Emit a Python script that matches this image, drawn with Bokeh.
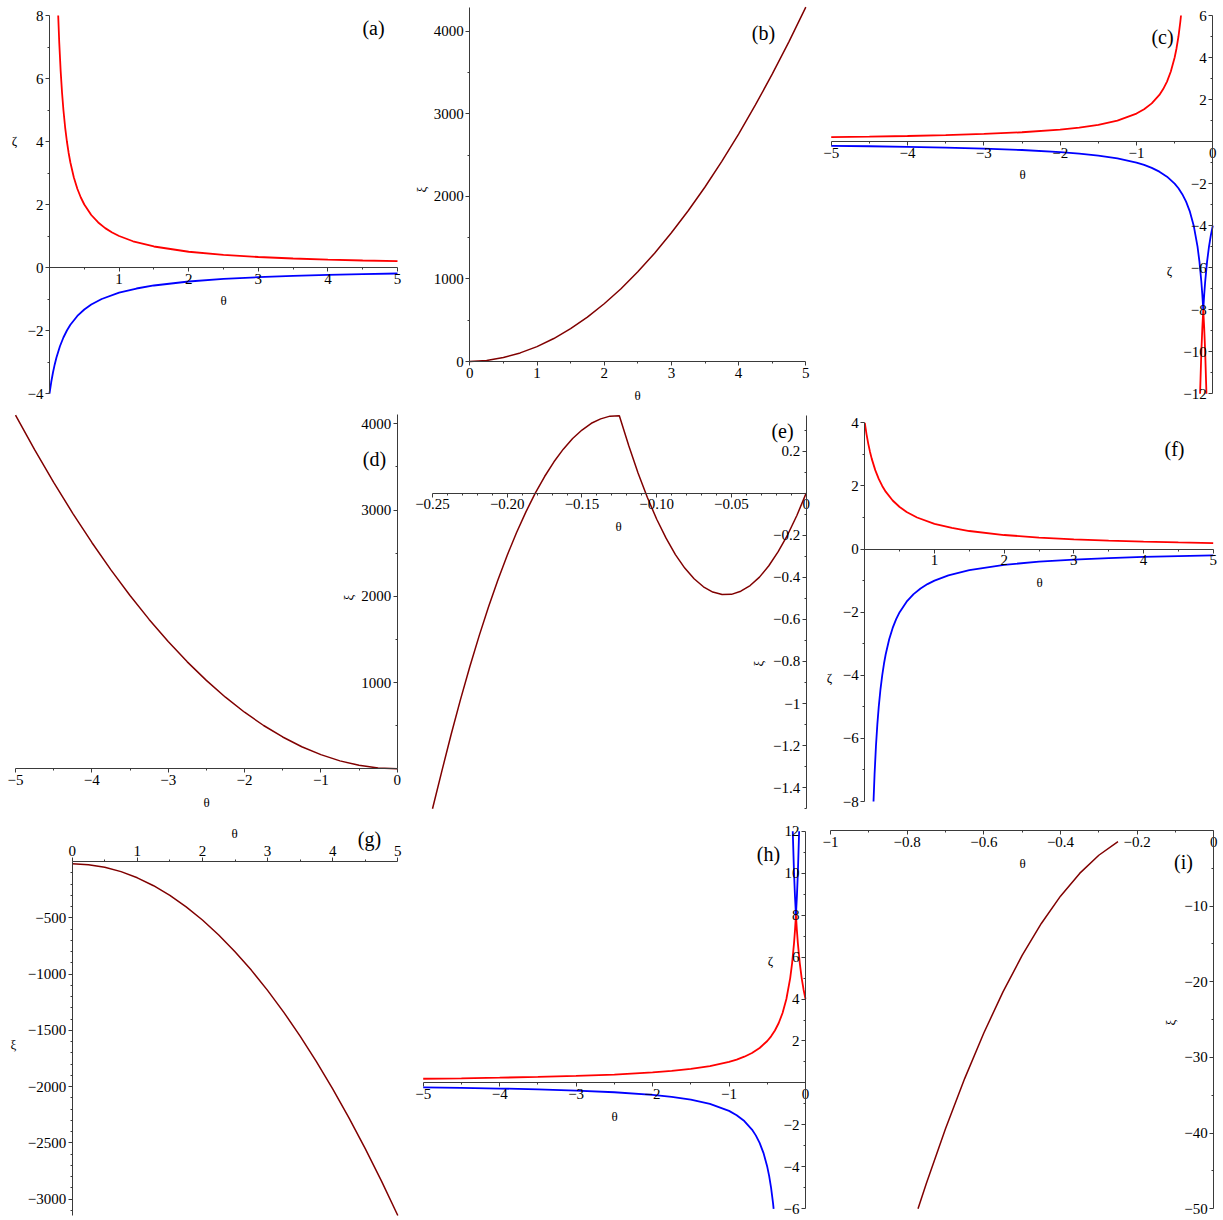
from math import pi
from bokeh.plotting import figure
from bokeh.models import LinearAxis, FixedTicker, Range1d, Label
from bokeh.embed import file_html
from bokeh.resources import INLINE

FONT = "Liberation Serif"
RED = "#ff0000"
BLUE = "#0000ff"
MAROON = "#800000"
AXIS = "#3a3a3a"
M = "\u2212"
CW, CH = 1223, 1220

# ---------------- data ----------------
# (a)
A_TH_RED = [0.125, 0.14, 0.16, 0.18, 0.2, 0.225, 0.25, 0.275, 0.3, 0.35, 0.4, 0.45, 0.5, 0.6, 0.7, 0.8, 0.9, 1.0, 1.2, 1.5, 2.0, 2.5, 3.0, 3.5, 4.0, 4.5, 5.0]
A_ZETA_RED = [8.0, 7.143, 6.25, 5.556, 5.0, 4.444, 4.0, 3.636, 3.333, 2.857, 2.5, 2.222, 2.0, 1.667, 1.429, 1.25, 1.111, 1.0, 0.833, 0.667, 0.5, 0.4, 0.333, 0.286, 0.25, 0.222, 0.2]
A_TH_BLUE = [0.0, 0.025, 0.05, 0.075, 0.1, 0.15, 0.2, 0.25, 0.3, 0.4, 0.5, 0.6, 0.75, 1.0, 1.25, 1.5, 2.0, 2.5, 3.0, 3.5, 4.0, 4.5, 5.0]
A_ZETA_BLUE = [-4.0, -3.636, -3.333, -3.077, -2.857, -2.5, -2.222, -2.0, -1.818, -1.538, -1.333, -1.176, -1.0, -0.8, -0.667, -0.571, -0.444, -0.364, -0.308, -0.267, -0.235, -0.211, -0.19]

# (b)
B_TH = [0.0, 0.25, 0.5, 0.75, 1.0, 1.25, 1.5, 1.75, 2.0, 2.25, 2.5, 2.75, 3.0, 3.25, 3.5, 3.75, 4.0, 4.25, 4.5, 4.75, 5.0]
B_XI = [0, 13, 48, 104, 180, 278, 398, 538, 699, 881, 1086, 1311, 1558, 1825, 2113, 2423, 2754, 3106, 3479, 3874, 4290]

# (c)
C_TH_RED = [-5.0, -4.5, -4.0, -3.5, -3.0, -2.5, -2.0, -1.75, -1.5, -1.25, -1.0, -0.9, -0.8, -0.7, -0.65, -0.6, -0.55, -0.5, -0.475, -0.45, -0.425, -0.4167]
C_ZETA_RED = [0.211, 0.235, 0.267, 0.308, 0.364, 0.444, 0.571, 0.667, 0.8, 1.0, 1.333, 1.538, 1.818, 2.222, 2.5, 2.857, 3.333, 4.0, 4.444, 5.0, 5.714, 6.0]
C_TH_RED_V = [-0.1667, -0.15, -0.1375, -0.125, -0.1125, -0.1, -0.0833]
C_ZETA_RED_V = [-12.0, -10.0, -8.889, -8.0, -8.889, -10.0, -12.0]
C_TH_BLUE = [-5.0, -4.5, -4.0, -3.5, -3.0, -2.5, -2.0, -1.75, -1.5, -1.25, -1.0, -0.9, -0.8, -0.7, -0.6, -0.5, -0.45, -0.4, -0.35, -0.3, -0.25, -0.2, -0.175, -0.15, -0.1375, -0.125, -0.1125, -0.1, -0.075, -0.05, -0.025, 0.0]
C_ZETA_BLUE = [-0.2, -0.222, -0.25, -0.286, -0.333, -0.4, -0.5, -0.571, -0.667, -0.8, -1.0, -1.111, -1.25, -1.429, -1.667, -2.0, -2.222, -2.5, -2.857, -3.333, -4.0, -5.0, -5.714, -6.667, -7.273, -8.0, -7.273, -6.667, -5.714, -5.0, -4.444, -4.0]

# (d)
D_TH = [-5.0, -4.75, -4.5, -4.25, -4.0, -3.75, -3.5, -3.25, -3.0, -2.75, -2.5, -2.25, -2.0, -1.75, -1.5, -1.25, -1.0, -0.75, -0.5, -0.25, 0.0]
D_XI = [4100, 3700, 3321, 2962, 2624, 2306, 2009, 1732, 1476, 1240, 1025, 830, 656, 502, 369, 256, 164, 92, 41, 10, 0]

# (e)
E_TH = [-0.25, -0.24375, -0.2375, -0.23125, -0.225, -0.21875, -0.2125, -0.20625, -0.2, -0.19375,
        -0.1875, -0.18125, -0.175, -0.16875, -0.1625, -0.15625, -0.15, -0.14375, -0.1375, -0.13125,
        -0.125, -0.11875, -0.1125, -0.10625, -0.1, -0.09375, -0.0875, -0.08125, -0.075, -0.06875,
        -0.0625, -0.05625, -0.05, -0.04375, -0.0375, -0.03125, -0.025, -0.01875, -0.0125, -0.00625, 0.0]
E_XI = [-1.5, -1.321, -1.146, -0.98, -0.824, -0.677, -0.54, -0.413, -0.295, -0.187,
        -0.089, 0.0, 0.079, 0.149, 0.209, 0.26, 0.3, 0.332, 0.353, 0.366,
        0.368, 0.226, 0.096, -0.021, -0.124, -0.214, -0.292, -0.356, -0.407, -0.445,
        -0.47, -0.482, -0.481, -0.466, -0.439, -0.399, -0.345, -0.278, -0.199, -0.106, 0.0]

# (f)
F_TH_RED = [0.0, 0.025, 0.05, 0.075, 0.1, 0.15, 0.2, 0.25, 0.3, 0.4, 0.5, 0.6, 0.75, 1.0, 1.25, 1.5, 2.0, 2.5, 3.0, 3.5, 4.0, 4.5, 5.0]
F_ZETA_RED = [4.0, 3.636, 3.333, 3.077, 2.857, 2.5, 2.222, 2.0, 1.818, 1.538, 1.333, 1.176, 1.0, 0.8, 0.667, 0.571, 0.444, 0.364, 0.308, 0.267, 0.235, 0.211, 0.19]
F_TH_BLUE = [0.125, 0.14, 0.16, 0.18, 0.2, 0.225, 0.25, 0.275, 0.3, 0.35, 0.4, 0.45, 0.5, 0.6, 0.7, 0.8, 0.9, 1.0, 1.2, 1.5, 2.0, 2.5, 3.0, 3.5, 4.0, 4.5, 5.0]
F_ZETA_BLUE = [-8.0, -7.143, -6.25, -5.556, -5.0, -4.444, -4.0, -3.636, -3.333, -2.857, -2.5, -2.222, -2.0, -1.667, -1.429, -1.25, -1.111, -1.0, -0.833, -0.667, -0.5, -0.4, -0.333, -0.286, -0.25, -0.222, -0.2]

# (g)
G_TH = [0.0, 0.25, 0.5, 0.75, 1.0, 1.25, 1.5, 1.75, 2.0, 2.25, 2.5, 2.75, 3.0, 3.25, 3.5, 3.75, 4.0, 4.25, 4.5, 4.75, 5.0]
G_XI = [-20, -28, -51, -90, -145, -215, -301, -403, -520, -653, -801, -965, -1145, -1340, -1551, -1778, -2020, -2278, -2551, -2840, -3145]

# (h)
H_TH_RED = [-5.0, -4.5, -4.0, -3.5, -3.0, -2.5, -2.0, -1.75, -1.5, -1.25, -1.0, -0.9, -0.8, -0.7, -0.6, -0.5, -0.45, -0.4, -0.35, -0.3, -0.25, -0.2, -0.175, -0.15, -0.1375, -0.125, -0.1125, -0.1, -0.075, -0.05, -0.025, 0.0]
H_ZETA_RED = [0.2, 0.222, 0.25, 0.286, 0.333, 0.4, 0.5, 0.571, 0.667, 0.8, 1.0, 1.111, 1.25, 1.429, 1.667, 2.0, 2.222, 2.5, 2.857, 3.333, 4.0, 5.0, 5.714, 6.667, 7.273, 8.0, 7.273, 6.667, 5.714, 5.0, 4.444, 4.0]
H_TH_BLUE = [-5.0, -4.5, -4.0, -3.5, -3.0, -2.5, -2.0, -1.75, -1.5, -1.25, -1.0, -0.9, -0.8, -0.7, -0.65, -0.6, -0.55, -0.5, -0.475, -0.45, -0.425, -0.4167]
H_ZETA_BLUE = [-0.211, -0.235, -0.267, -0.308, -0.364, -0.444, -0.571, -0.667, -0.8, -1.0, -1.333, -1.538, -1.818, -2.222, -2.5, -2.857, -3.333, -4.0, -4.444, -5.0, -5.714, -6.0]
H_TH_BLUE_V = [-0.1667, -0.15, -0.1375, -0.125, -0.1125, -0.1, -0.0833]
H_ZETA_BLUE_V = [12.0, 10.0, 8.889, 8.0, 8.889, 10.0, 12.0]

# (i)
I_TH = [-0.25, -0.3, -0.35, -0.4, -0.45, -0.5, -0.55, -0.6, -0.65, -0.7, -0.75, -0.7717]
I_XI = [-1.48, -3.27, -5.67, -8.68, -12.29, -16.51, -21.33, -26.76, -32.79, -39.42, -46.67, -50.0]

# ---------------- tick labels ----------------
A_XT = [1, 2, 3, 4, 5]; A_XL = ["1", "2", "3", "4", "5"]
A_YT = [-4, -2, 0, 2, 4, 6, 8]; A_YL = [M + "4", M + "2", "0", "2", "4", "6", "8"]
B_XT = [0, 1, 2, 3, 4, 5]; B_XL = ["0", "1", "2", "3", "4", "5"]
B_YT = [0, 1000, 2000, 3000, 4000]; B_YL = ["0", "1000", "2000", "3000", "4000"]
C_XT = [-5, -4, -3, -2, -1, 0]; C_XL = [M + "5", M + "4", M + "3", M + "2", M + "1", "0"]
C_YT = [-12, -10, -8, -6, -4, -2, 2, 4, 6]; C_YL = [M + "12", M + "10", M + "8", M + "6", M + "4", M + "2", "2", "4", "6"]
D_XT = [-5, -4, -3, -2, -1, 0]; D_XL = [M + "5", M + "4", M + "3", M + "2", M + "1", "0"]
D_YT = [1000, 2000, 3000, 4000]; D_YL = ["1000", "2000", "3000", "4000"]
E_XT = [-0.25, -0.2, -0.15, -0.1, -0.05, 0]; E_XL = [M + "0.25", M + "0.20", M + "0.15", M + "0.10", M + "0.05", "0"]
E_YT = [-1.4, -1.2, -1.0, -0.8, -0.6, -0.4, -0.2, 0.2]; E_YL = [M + "1.4", M + "1.2", M + "1", M + "0.8", M + "0.6", M + "0.4", M + "0.2", "0.2"]
F_XT = [1, 2, 3, 4, 5]; F_XL = ["1", "2", "3", "4", "5"]
F_YT = [-8, -6, -4, -2, 0, 2, 4]; F_YL = [M + "8", M + "6", M + "4", M + "2", "0", "2", "4"]
G_XT = [0, 1, 2, 3, 4, 5]; G_XL = ["0", "1", "2", "3", "4", "5"]
G_YT = [-3000, -2500, -2000, -1500, -1000, -500]; G_YL = [M + "3000", M + "2500", M + "2000", M + "1500", M + "1000", M + "500"]
H_XT = [-5, -4, -3, -2, -1, 0]; H_XL = [M + "5", M + "4", M + "3", M + "2", M + "1", "0"]
H_YT = [-6, -4, -2, 2, 4, 6, 8, 10, 12]; H_YL = [M + "6", M + "4", M + "2", "2", "4", "6", "8", "10", "12"]
I_XT = [-1, -0.8, -0.6, -0.4, -0.2, 0]; I_XL = [M + "1", M + "0.8", M + "0.6", M + "0.4", M + "0.2", "0"]
I_YT = [-50, -40, -30, -20, -10]; I_YL = [M + "50", M + "40", M + "30", M + "20", M + "10"]


def minors(a, b, step, majors):
    out = []
    n = int(round((b - a) / step))
    for k in range(n + 1):
        v = round(a + k * step, 6)
        if all(abs(v - m) > step * 1e-3 for m in majors):
            out.append(v)
    return out


# One canvas; the default ranges are page pixels (y downwards) and each
# panel gets its own pair of scales, placed by its frame box on the page.
p = figure(width=CW, height=CH, title=None,
           x_range=Range1d(0, CW), y_range=Range1d(CH, 0),
           x_axis_location=None, y_axis_location=None,
           toolbar_location=None, output_backend="svg",
           min_border_left=0, min_border_right=0, min_border_top=0, min_border_bottom=0,
           outline_line_color=None, background_fill_color="white", border_fill_color="white")
p.grid.visible = False

EX, EY = {}, {}

PANELS = {
    # key: (frame left, top, width, height) in page px, x range, y range
    "a": ((49.0, 15.0, 348.0, 378.0), (0, 5), (-4, 8)),
    "b": ((469.3, 6.7, 336.0, 354.3), (0, 5), (0, 4290)),
    "c": ((830.7, 15.0, 381.6, 378.3), (-5, 0), (-12, 6)),
    "d": ((15.0, 414.3, 381.7, 354.0), (-5, 0), (0, 4104)),
    "e": ((432.0, 415.0, 373.7, 393.3), (-0.25, 0), (-1.5, 0.369)),
    "f": ((864.3, 422.3, 348.4, 378.7), (0, 5), (-8, 4)),
    "g": ((71.7, 861.0, 325.6, 354.0), (0, 5), (-3145, 0)),
    "h": ((422.7, 830.7, 382.3, 377.6), (-5, 0), (-6, 12)),
    "i": ((830.0, 830.0, 383.3, 378.3), (-1, 0), (-50, 0)),
}

for key, (frame, xr, yr) in PANELS.items():
    L, T, W, H = frame
    sx = (xr[1] - xr[0]) / W
    sy = (yr[1] - yr[0]) / H
    EX[key] = Range1d(xr[0] - L * sx, xr[0] + (CW - L) * sx)
    EY[key] = Range1d(yr[1] - (CH - T) * sy, yr[1] + T * sy)

p.extra_x_ranges = EX
p.extra_y_ranges = EY


def axis(key, dim, ticks, labels, minor, side):
    xr, yr = PANELS[key][1], PANELS[key][2]
    ax = LinearAxis(
        x_range_name=key, y_range_name=key,
        fixed_location=0, bounds=(xr if dim == "x" else yr),
        ticker=FixedTicker(ticks=ticks, minor_ticks=minor),
        major_label_overrides={t: l for t, l in zip(ticks, labels)},
        axis_line_color=AXIS, axis_line_width=1,
        major_tick_line_color=AXIS, minor_tick_line_color=AXIS,
        major_tick_out=4, major_tick_in=0, minor_tick_out=2, minor_tick_in=0,
        major_label_text_font=FONT, major_label_text_font_size="15px",
        major_label_text_color="black", major_label_standoff=2,
    )
    p.add_layout(ax, side)


def curve(key, xs, ys, color, width):
    p.line(xs, ys, x_range_name=key, y_range_name=key, line_color=color, line_width=width)


def texts(tag, tag_xy, th_xy, var, var_xy, rot):
    p.add_layout(Label(x=tag_xy[0], y=tag_xy[1], text=tag, text_font=FONT, text_font_size="20px",
                       text_align="center", text_baseline="middle", text_color="black"))
    p.add_layout(Label(x=th_xy[0], y=th_xy[1], text="\u03b8", text_font=FONT, text_font_size="13px",
                       text_align="center", text_baseline="middle", text_color="black"))
    p.add_layout(Label(x=var_xy[0], y=var_xy[1], text=var, text_font=FONT, text_font_size="13px",
                       angle=(pi / 2 if rot else 0), text_align="center",
                       text_baseline="middle", text_color="black"))


ZW = 1.8
MW = 1.5
ZETA = "\u03b6"
XI = "\u03be"

# (a)
axis("a", "x", A_XT, A_XL, minors(0, 5, 0.5, A_XT + [0]), "below")
axis("a", "y", A_YT, A_YL, minors(-4, 8, 1, A_YT), "left")
curve("a", A_TH_RED, A_ZETA_RED, RED, ZW)
curve("a", A_TH_BLUE, A_ZETA_BLUE, BLUE, ZW)
texts("(a)", (373, 27), (223, 300), ZETA, (14, 140), False)

# (b)
axis("b", "x", B_XT, B_XL, minors(0, 5, 0.5, B_XT), "below")
axis("b", "y", B_YT, B_YL, minors(0, 4000, 500, B_YT), "left")
curve("b", B_TH, B_XI, MAROON, MW)
texts("(b)", (763, 32), (637, 395), XI, (421, 189), True)

# (c)
axis("c", "x", C_XT, C_XL, minors(-5, 0, 0.5, C_XT), "below")
axis("c", "y", C_YT, C_YL, minors(-12, 6, 1, C_YT + [0]), "left")
curve("c", C_TH_RED, C_ZETA_RED, RED, ZW)
curve("c", C_TH_RED_V, C_ZETA_RED_V, RED, ZW)
curve("c", C_TH_BLUE, C_ZETA_BLUE, BLUE, ZW)
texts("(c)", (1162, 36), (1022, 174), ZETA, (1169, 270), False)

# (d)
axis("d", "x", D_XT, D_XL, minors(-5, 0, 0.5, D_XT), "below")
axis("d", "y", D_YT, D_YL, minors(0, 4000, 500, D_YT + [0]), "left")
curve("d", D_TH, D_XI, MAROON, MW)
texts("(d)", (374, 458), (206, 802), XI, (348, 597), True)

# (e)
axis("e", "x", E_XT, E_XL, minors(-0.25, 0, 0.01, E_XT), "below")
axis("e", "y", E_YT, E_YL, minors(-1.5, 0.3, 0.1, E_YT + [0]), "left")
curve("e", E_TH, E_XI, MAROON, MW)
texts("(e)", (782, 430), (618, 526), XI, (758, 663), True)

# (f)
axis("f", "x", F_XT, F_XL, minors(0, 5, 0.5, F_XT + [0]), "below")
axis("f", "y", F_YT, F_YL, minors(-8, 4, 1, F_YT), "left")
curve("f", F_TH_RED, F_ZETA_RED, RED, ZW)
curve("f", F_TH_BLUE, F_ZETA_BLUE, BLUE, ZW)
texts("(f)", (1174, 448), (1039, 582), ZETA, (829, 677), False)

# (g)
axis("g", "x", G_XT, G_XL, minors(0, 5, 0.5, G_XT), "above")
axis("g", "y", G_YT, G_YL, minors(-3100, 0, 100, G_YT + [0]), "left")
curve("g", G_TH, G_XI, MAROON, MW)
texts("(g)", (369, 838), (234, 833), XI, (13, 1044), False)

# (h)
axis("h", "x", H_XT, H_XL, minors(-5, 0, 0.5, H_XT), "below")
axis("h", "y", H_YT, H_YL, minors(-6, 12, 1, H_YT + [0]), "left")
curve("h", H_TH_RED, H_ZETA_RED, RED, ZW)
curve("h", H_TH_BLUE, H_ZETA_BLUE, BLUE, ZW)
curve("h", H_TH_BLUE_V, H_ZETA_BLUE_V, BLUE, ZW)
texts("(h)", (768, 853), (614, 1116), ZETA, (770, 960), False)

# (i)
axis("i", "x", I_XT, I_XL, minors(-1, 0, 0.1, I_XT), "below")
axis("i", "y", I_YT, I_YL, minors(-50, 0, 5, I_YT + [0]), "left")
curve("i", I_TH, I_XI, MAROON, MW)
texts("(i)", (1183, 861), (1022, 863), XI, (1170, 1022), True)

open("out.html", "w").write(file_html(p, INLINE))
